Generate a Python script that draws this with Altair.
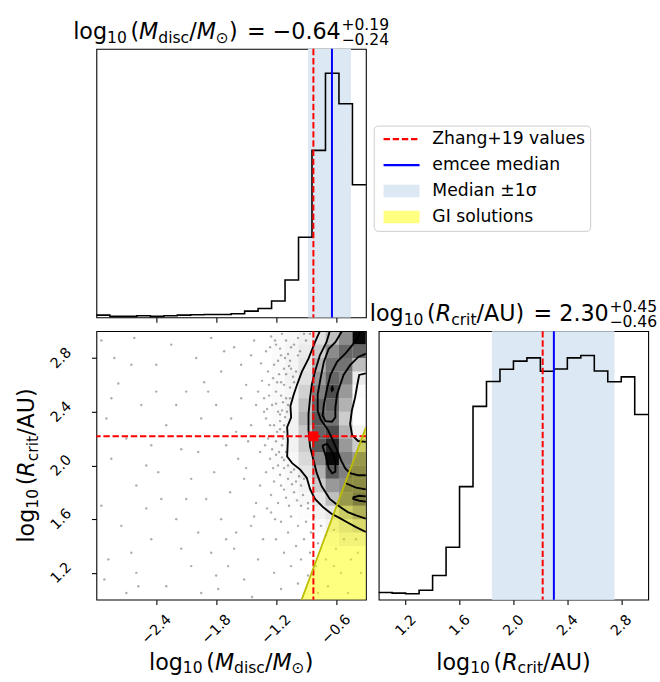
import altair as alt
import pandas as pd

FONT = "DejaVu Sans"

# ---------------- data ----------------
m_range = [-3.0, -0.3]
r_range = [1.0, 3.0]
n_bins = 20
mass_counts = [7, 3, 3, 5, 3, 5, 7, 8, 9, 9, 11, 19, 27, 50, 114, 244, 509, 744, 651, 404]
rcrit_counts = [22, 20, 18, 29, 74, 160, 345, 590, 666, 703, 728, 738, 697, 704, 738, 745, 698, 665, 680, 565]
mass_med, mass_plus, mass_minus = -0.64, 0.19, 0.24
rcrit_med, rcrit_plus, rcrit_minus = 2.30, 0.45, 0.46
zhang_mass, zhang_rcrit = -0.826, 2.217
mass_ticks = [-2.4, -1.8, -1.2, -0.6]
rcrit_ticks = [1.2, 1.6, 2.0, 2.4, 2.8]
gi_mass = [-0.944, -0.3]
gi_rcrit = [1.0, 2.283]

# 2D histogram shading (darkness) for mass columns 13..19, rcrit rows 19 (top) .. 4
dens_cols = [13, 14, 15, 16, 17, 18, 19]
dens_rows = [19, 18, 17, 16, 15, 14, 13, 12, 11, 10, 9, 8, 7, 6, 5, 4]
dens = [
    [0.02, 0.03, 0.06, 0.12, 0.25, 0.45, 0.97],
    [0.02, 0.04, 0.08, 0.20, 0.45, 0.60, 0.60],
    [0.02, 0.04, 0.10, 0.30, 0.55, 0.55, 0.25],
    [0.02, 0.05, 0.12, 0.40, 0.60, 0.50, 0.08],
    [0.02, 0.04, 0.18, 0.50, 0.70, 0.40, 0.02],
    [0.02, 0.05, 0.25, 0.60, 0.60, 0.30, 0.00],
    [0.02, 0.05, 0.30, 0.65, 0.55, 0.20, 0.00],
    [0.02, 0.05, 0.22, 0.60, 0.70, 0.30, 0.05],
    [0.02, 0.05, 0.20, 0.65, 0.85, 0.40, 0.20],
    [0.02, 0.03, 0.15, 0.45, 0.97, 0.50, 0.40],
    [0.01, 0.03, 0.10, 0.30, 0.65, 0.50, 0.45],
    [0.00, 0.02, 0.05, 0.20, 0.40, 0.45, 0.45],
    [0.00, 0.01, 0.03, 0.10, 0.25, 0.40, 0.50],
    [0.00, 0.00, 0.01, 0.05, 0.10, 0.20, 0.30],
    [0.00, 0.00, 0.00, 0.02, 0.05, 0.10, 0.15],
    [0.00, 0.00, 0.00, 0.00, 0.02, 0.05, 0.05],
]

contours = [
    [(-0.761, 3.0), (-0.810, 2.918), (-0.875, 2.796), (-0.941, 2.699), (-0.990, 2.601), (-1.023, 2.528),
     (-1.056, 2.443), (-1.049, 2.358), (-1.089, 2.285), (-1.082, 2.188), (-1.089, 2.066), (-1.039, 2.017),
     (-0.958, 1.969), (-0.892, 1.907), (-0.859, 1.823), (-0.810, 1.750), (-0.727, 1.688), (-0.645, 1.640),
     (-0.579, 1.615), (-0.488, 1.577), (-0.399, 1.540), (-0.300, 1.504)],
    [(-0.662, 3.0), (-0.695, 2.918), (-0.761, 2.820), (-0.810, 2.699), (-0.842, 2.601), (-0.859, 2.504),
     (-0.875, 2.382), (-0.875, 2.261), (-0.859, 2.139), (-0.826, 2.042), (-0.793, 1.944), (-0.744, 1.847),
     (-0.662, 1.750), (-0.579, 1.701), (-0.481, 1.652), (-0.399, 1.628), (-0.300, 1.604)],
    [(-0.540, 3.0), (-0.606, 2.918), (-0.672, 2.869), (-0.721, 2.772), (-0.754, 2.650), (-0.783, 2.528),
     (-0.783, 2.407), (-0.754, 2.343), (-0.685, 2.270), (-0.636, 2.197), (-0.586, 2.109), (-0.547, 2.036),
     (-0.507, 1.978), (-0.458, 1.942), (-0.379, 1.927), (-0.300, 1.927)],
    [(-0.300, 2.832), (-0.376, 2.808), (-0.458, 2.747), (-0.524, 2.674), (-0.557, 2.601), (-0.589, 2.528),
     (-0.606, 2.431), (-0.606, 2.358), (-0.640, 2.325), (-0.704, 2.330), (-0.734, 2.372), (-0.721, 2.455),
     (-0.688, 2.577), (-0.655, 2.674), (-0.589, 2.772), (-0.507, 2.832), (-0.426, 2.905), (-0.380, 2.960),
     (-0.340, 3.0)],
    [(-0.300, 2.686), (-0.367, 2.674), (-0.386, 2.601), (-0.409, 2.504), (-0.441, 2.407), (-0.458, 2.309),
     (-0.438, 2.226), (-0.379, 2.182), (-0.300, 2.175)],
    [(-0.737, 2.148), (-0.704, 2.075), (-0.672, 1.978), (-0.638, 1.942), (-0.606, 1.954), (-0.606, 2.027),
     (-0.638, 2.100), (-0.688, 2.161), (-0.737, 2.148)],
    [(-0.648, 2.575), (-0.635, 2.585), (-0.628, 2.565), (-0.640, 2.556), (-0.648, 2.575)],
    [(-0.514, 1.871), (-0.399, 1.834), (-0.300, 1.822)],
    [(-0.431, 1.761), (-0.366, 1.774), (-0.300, 1.769)],
    [(-0.300, 1.730), (-0.366, 1.737), (-0.426, 1.750), (-0.431, 1.761)],
]

dot_mass = [
    -2.95, -2.78, -2.62, -2.90, -2.55, -2.40, -2.25, -2.10, -2.00, -2.30, -2.70, -2.85, -2.50, -2.15, -1.95, -2.60,
    -2.95, -2.35, -2.05, -2.75, -2.45, -2.20, -1.98, -2.88, -2.60, -2.30, -2.05, -2.70, -2.15, -2.50, -2.82, -2.40,
    -1.92, -2.65,
    -1.85, -1.75, -1.62, -1.50, -1.42, -1.35, -1.80, -1.65, -1.55, -1.45, -1.38, -1.70, -1.58, -1.48, -1.36, -1.82,
    -1.66, -1.52, -1.40, -1.75, -1.60, -1.45, -1.85, -1.68, -1.52, -1.38, -1.78, -1.44, -1.33, -1.90, -1.55, -1.32,
    -1.30, -1.25, -1.20, -1.15, -1.10, -1.05, -0.98, -0.92, -1.28, -1.22, -1.17, -1.12, -1.06, -1.00, -1.27, -1.20,
    -1.15, -1.10, -1.06, -1.24, -1.18, -1.13, -1.09, -1.30, -1.22, -1.16, -1.12, -1.28, -1.20, -1.14, -1.10, -1.26,
    -1.18, -1.12, -1.05, -1.30, -1.22, -1.15, -1.08, -1.00, -1.25, -1.18, -1.10, -1.02, -0.95, -1.32, -1.26, -1.14,
    -1.19, -1.24, -1.16, -1.11, -1.29, -1.03, -1.08, -1.20, -0.98,
    -1.25, -1.15, -1.05, -0.95, -0.88, -1.20, -1.08, -0.98, -0.90, -0.82, -1.12, -1.00, -0.92, -0.85, -0.75, -1.22,
    -1.05, -0.95, -0.86, -0.78, -0.70, -0.62, -1.15, -0.98, -0.88, -0.80, -0.70, -0.60, -0.52, -0.45, -0.55, -0.68,
    -0.40, -0.35, -0.48, -0.78, -0.62, -0.38,
    -1.21, -1.16, -1.11, -1.07, -1.02, -1.06, -1.08, -1.14, -1.12, -1.13, -1.17, -1.12, -1.08, -1.02, -0.97, -0.92,
    -1.04, -1.12, -1.07, -0.99, -0.93, -0.88, -1.23, -1.18, -1.26, -1.19, -1.23, -1.16, -1.27, -1.34, -1.31, -1.36,
    -1.29, -1.21, -1.02, -0.96, -0.90, -0.86, -1.15, -1.12, -1.10, -1.05, -1.20, -1.14, -1.16,
    -2.85, -2.65, -2.45, -2.20, -1.98, -1.88, -1.72, -1.60, -1.50, -1.42, -1.62, -1.80, -2.10, -2.38, -2.58, -2.92,
    -1.95, -1.70, -1.45, -1.40,
]
dot_rcrit = [
    2.93, 2.61, 2.95, 2.35, 2.45, 2.75, 2.90, 2.55, 2.80, 2.30, 2.20, 2.05, 2.00, 2.12, 2.35, 1.85,
    1.70, 1.75, 1.90, 1.55, 1.45, 1.60, 1.50, 1.30, 1.20, 1.10, 1.25, 1.05, 1.38, 1.68, 2.80, 2.55,
    2.62, 1.35,
    2.95, 2.70, 2.88, 2.60, 2.93, 2.76, 2.45, 2.35, 2.50, 2.30, 2.55, 2.15, 2.05, 2.18, 2.10, 1.95,
    1.80, 1.90, 1.72, 1.60, 1.50, 1.55, 1.35, 1.25, 1.15, 1.30, 1.08, 1.02, 1.45, 1.75, 2.75, 2.40,
    2.85, 2.96, 2.90, 2.82, 2.93, 2.88, 2.95, 2.98, 2.70, 2.75, 2.68, 2.72, 2.78, 2.70, 2.60, 2.55,
    2.62, 2.50, 2.58, 2.45, 2.40, 2.47, 2.40, 2.35, 2.30, 2.33, 2.25, 2.20, 2.18, 2.15, 2.10, 2.05,
    2.00, 1.98, 1.95, 1.95, 1.88, 1.85, 1.90, 1.88, 1.78, 1.72, 1.76, 1.80, 1.85, 2.50, 2.88, 2.98,
    2.62, 2.12, 2.27, 2.36, 2.42, 2.66, 2.83, 2.08, 2.82,
    1.65, 1.58, 1.62, 1.70, 1.68, 1.45, 1.50, 1.55, 1.58, 1.62, 1.35, 1.40, 1.45, 1.50, 1.55, 1.20,
    1.25, 1.30, 1.35, 1.42, 1.48, 1.52, 1.08, 1.12, 1.18, 1.25, 1.30, 1.38, 1.45, 1.30, 1.20, 1.10,
    1.45, 1.20, 1.05, 1.05, 1.25, 1.35,
    2.93, 2.87, 2.80, 2.74, 2.62, 2.50, 2.45, 2.41, 2.30, 2.20, 2.10, 2.04, 2.00, 1.97, 1.92, 1.90,
    1.86, 1.82, 1.70, 1.74, 1.78, 1.72, 2.65, 2.78, 2.30, 2.25, 1.98, 1.93, 2.52, 2.63, 2.15, 1.85,
    1.68, 1.60, 2.90, 2.85, 2.93, 2.98, 2.52, 2.60, 2.68, 2.72, 2.46, 2.06, 2.38,
    2.50, 2.75, 2.15, 2.45, 2.10, 2.55, 2.85, 2.25, 1.98, 1.62, 1.38, 1.18, 1.75, 1.95, 1.10, 1.15,
    1.05, 1.45, 2.82, 2.45,
]

legend_labels = ["Zhang+19 values", "emcee median", "Median \u00b11\u03c3", "GI solutions"]
legend_colors = ["#ff0000", "#0000ff", "#dce8f3", "#ffff80"]

mass_label = [("log", "rm"), ("10", "sb"), ("(", "rm"), ("M", "it"), ("disc", "sb"), ("/", "rm"),
              ("M", "it"), ("\u2299", "sb"), (")", "rm")]
rcrit_label = [("log", "rm"), ("10", "sb"), ("(", "rm"), ("R", "it"), ("crit", "sb"), ("/", "rm"),
               ("AU", "rm"), (")", "rm")]


def num(v):
    return f"{v:.2f}".replace("-", "\u2212")


mass_title = mass_label + [("=", "rel"), (num(mass_med), "rm"), ("+" + num(mass_plus), "sp"), (num(-mass_minus), "sb2")]
rcrit_title = rcrit_label + [("=", "rel"), (num(rcrit_med), "rm"), ("+" + num(rcrit_plus), "sp"), (num(-rcrit_minus), "sb2")]

# ---------------- layout helpers ----------------
PW, PH = 274, 273
TFS = 22.6
TICK_FS = 14.5
CHAR_W = {'l': 0.278, 'o': 0.612, 'g': 0.635, '(': 0.390, ')': 0.390, 'M': 0.863, 'd': 0.635, 'i': 0.278,
          's': 0.521, 'c': 0.550, '/': 0.337, '\u2299': 0.838, '=': 0.838, '\u2212': 0.838, '+': 0.838,
          '.': 0.318, 'R': 0.695, 'r': 0.411, 't': 0.392, 'A': 0.684, 'U': 0.732, ' ': 0.318}


def tw(s, fs):
    return sum(0.636 if ch.isdigit() else CHAR_W.get(ch, 0.6) for ch in s) * fs


def layout(parts, fs):
    items, x, sup_x, sup_end = [], 0.0, 0.0, 0.0
    for i, (t, role) in enumerate(parts):
        if role in ("rm", "it"):
            items.append((t, x, 0.0, fs, "italic" if role == "it" else "normal"))
            x += tw(t, fs)
        elif role == "rel":
            x += 0.42 * fs
            items.append((t, x, 0.0, fs, "normal"))
            x += tw(t, fs) + 0.32 * fs
        elif role == "sb":
            s = 0.7 * fs
            items.append((t, x, 0.16 * fs, s, "normal"))
            x += tw(t, s)
            if i > 0 and parts[i - 1][0] == "log":
                x += 0.16 * fs
        elif role == "sp":
            s = 0.7 * fs
            x += 0.03 * fs
            items.append((t, x, -0.40 * fs, s, "normal"))
            sup_x, sup_end = x, x + tw(t, s)
        elif role == "sb2":
            s = 0.7 * fs
            items.append((t, sup_x, 0.27 * fs, s, "normal"))
            x = max(sup_end, sup_x + tw(t, s))
    return items, x


def text_df(parts, fs, cx, cy, rotated=False):
    items, total = layout(parts, fs)
    rows = []
    for t, x, dy, s, st in items:
        if rotated:
            rows.append({"t": t, "px": cx + dy, "py": cy + total / 2 - x, "fs": s, "st": st})
        else:
            rows.append({"t": t, "px": cx - total / 2 + x, "py": cy + dy, "fs": s, "st": st})
    return pd.DataFrame(rows)


def text_layers(df, angle=0):
    out = []
    for st in ["normal", "italic"]:
        sub = df[df["st"] == st]
        if len(sub) == 0:
            continue
        out.append(alt.Chart(sub).mark_text(align="left", baseline="alphabetic", font=FONT, fontStyle=st,
                                            angle=angle, color="black").encode(
            x=alt.X("px:Q", scale=None, axis=None),
            y=alt.Y("py:Q", scale=None, axis=None),
            text="t:N",
            size=alt.Size("fs:Q", scale=None, legend=None)))
    return out


def hist_df(counts, lo, hi):
    w = (hi - lo) / len(counts)
    return pd.DataFrame({"v": [lo + i * w for i in range(len(counts) + 1)],
                         "c": counts + [counts[-1]]})


DASH = [6.5, 2.8]
LW = 2.0

# ---------------- top-left: mass histogram ----------------
mx = alt.Scale(domain=m_range, nice=False, zero=False)
my_top = alt.Scale(domain=[0, 1.1 * max(mass_counts)], nice=False)
top_xaxis = alt.Axis(values=mass_ticks, labels=False, ticks=True, tickSize=5, tickWidth=1.1,
                     tickColor="black", domain=False, grid=False, title=None)

band_m = alt.Chart(pd.DataFrame({"a": [mass_med - mass_minus], "b": [mass_med + mass_plus]})).mark_rect(
    color="#dce8f3").encode(x=alt.X("a:Q", scale=mx, axis=top_xaxis), x2="b:Q")
hist_m = alt.Chart(hist_df(mass_counts, *m_range)).mark_line(interpolate="step-after", color="black",
                                                             strokeWidth=1.6).encode(
    x=alt.X("v:Q", scale=mx, axis=top_xaxis), y=alt.Y("c:Q", scale=my_top, axis=None))
zh_m = alt.Chart(pd.DataFrame({"v": [zhang_mass]})).mark_rule(color="#ff0000", strokeDash=DASH,
                                                               strokeWidth=LW).encode(x="v:Q")
med_m = alt.Chart(pd.DataFrame({"v": [mass_med]})).mark_rule(color="#0000ff", strokeWidth=LW).encode(x="v:Q")

# legend
U = 6.5  # px per path unit for symbol size 169
u0 = -0.585
hl = 36.6 / U
u1 = u0 + hl
th = 0.8 / U * 1.5


def rect_path(a, b, h):
    return f"M{a:.3f},{-h:.3f}H{b:.3f}V{h:.3f}H{a:.3f}Z"


dash_parts = []
a = u0
while a < u1:
    b = min(a + DASH[0] / U, u1)
    dash_parts.append(rect_path(a, b, th))
    a = b + DASH[1] / U
legend_shapes = [" ".join(dash_parts), rect_path(u0, u1, th), rect_path(u0, u1, 0.98), rect_path(u0, u1, 0.98)]

leg = alt.Legend(title=None, orient="none", legendX=282, legendY=78, labelFont=FONT, labelFontSize=17.5,
                 labelColor="black", labelOffset=37, rowPadding=7.4, padding=5, strokeColor="#cccccc",
                 fillColor="white", cornerRadius=4, symbolOpacity=1, symbolStrokeWidth=0, symbolSize=169,
                 labelLimit=400)
legend_layer = alt.Chart(pd.DataFrame({"cat": legend_labels})).mark_point(
    filled=True, size=169, opacity=0, strokeWidth=0).encode(
    x=alt.value(50), y=alt.value(50),
    color=alt.Color("cat:N", scale=alt.Scale(domain=legend_labels, range=legend_colors), legend=leg),
    shape=alt.Shape("cat:N", scale=alt.Scale(domain=legend_labels, range=legend_shapes), legend=leg))

top = alt.layer(band_m, hist_m, zh_m, med_m, legend_layer,
                *text_layers(text_df(mass_title, TFS, PW / 2, -10))).properties(width=PW, height=PH)

# ---------------- bottom-left: 2D ----------------
ry = alt.Scale(domain=r_range, nice=False, zero=False)
minus_expr = "replace(format(datum.value, '.1f'), '-', '\u2212')"


def tick_axis(vals, pad):
    return alt.Axis(values=vals, labelAngle=315, labelAlign="center", labelBaseline="middle",
                    labelPadding=pad, tickSize=5, tickWidth=1.1, tickColor="black", labelFont=FONT,
                    labelFontSize=TICK_FS, labelColor="black", labelExpr=minus_expr, domain=False, grid=False,
                    title=None, labelFlush=False, labelOverlap=False)


bl_xaxis = tick_axis(mass_ticks, 25)
bl_yaxis = tick_axis(rcrit_ticks, 31)

dots = alt.Chart(pd.DataFrame({"m": dot_mass, "r": dot_rcrit})).mark_circle(
    size=6, color="#6a6a6a", opacity=0.55, clip=True).encode(
    x=alt.X("m:Q", scale=mx, axis=bl_xaxis), y=alt.Y("r:Q", scale=ry, axis=bl_yaxis))

gi_df = pd.DataFrame({"m": gi_mass, "r": gi_rcrit, "base": [r_range[0]] * len(gi_mass)})
gi_area = alt.Chart(gi_df).mark_area(color="#ffff00", opacity=0.5, clip=True).encode(
    x="m:Q", y="r:Q", y2="base:Q")
gi_edge = alt.Chart(gi_df).mark_line(color="#bcbc00", strokeWidth=1.8, clip=True).encode(x="m:Q", y="r:Q")

mw = (m_range[1] - m_range[0]) / n_bins
rw = (r_range[1] - r_range[0]) / n_bins
cell_rows = []
for ri, row in zip(dens_rows, dens):
    for ci, v in zip(dens_cols, row):
        if v > 0:
            cell_rows.append({"x0": m_range[0] + ci * mw, "x1": m_range[0] + (ci + 1) * mw,
                              "y0": r_range[0] + ri * rw, "y1": r_range[0] + (ri + 1) * rw, "d": v})
cells = alt.Chart(pd.DataFrame(cell_rows)).mark_rect(color="black", clip=True).encode(
    x="x0:Q", x2="x1:Q", y="y0:Q", y2="y1:Q", opacity=alt.Opacity("d:Q", scale=None, legend=None))

crow = []
for cid, path in enumerate(contours):
    for k, (m, r) in enumerate(path):
        crow.append({"cid": cid, "k": k, "m": m, "r": r})
cont = alt.Chart(pd.DataFrame(crow)).mark_line(color="black", strokeWidth=1.9, clip=True).encode(
    x="m:Q", y="r:Q", detail="cid:N", order="k:Q")

zh_v = alt.Chart(pd.DataFrame({"v": [zhang_mass]})).mark_rule(color="#ff0000", strokeDash=DASH,
                                                               strokeWidth=LW).encode(x="v:Q")
zh_h = alt.Chart(pd.DataFrame({"v": [zhang_rcrit]})).mark_rule(color="#ff0000", strokeDash=DASH,
                                                                strokeWidth=LW).encode(y="v:Q")
zh_pt = alt.Chart(pd.DataFrame({"m": [zhang_mass], "r": [zhang_rcrit]})).mark_square(
    size=100, color="#ff0000", opacity=1).encode(x="m:Q", y="r:Q")

bl = alt.layer(dots, gi_area, cells, cont, zh_v, zh_h, zh_pt, gi_edge,
               *text_layers(text_df(mass_label, TFS, PW / 2, PH + 71)),
               *text_layers(text_df(rcrit_label, TFS, -63, PH / 2, rotated=True), angle=270)
               ).properties(width=PW, height=PH)

# ---------------- bottom-right: rcrit histogram ----------------
rx = alt.Scale(domain=r_range, nice=False, zero=False)
ry_hist = alt.Scale(domain=[0, 1.1 * max(rcrit_counts)], nice=False)
br_xaxis = tick_axis(rcrit_ticks, 21)
band_r = alt.Chart(pd.DataFrame({"a": [rcrit_med - rcrit_minus], "b": [rcrit_med + rcrit_plus]})).mark_rect(
    color="#dce8f3").encode(x=alt.X("a:Q", scale=rx, axis=br_xaxis), x2="b:Q")
hist_r = alt.Chart(hist_df(rcrit_counts, *r_range)).mark_line(interpolate="step-after", color="black",
                                                              strokeWidth=1.6).encode(
    x=alt.X("v:Q", scale=rx, axis=br_xaxis), y=alt.Y("c:Q", scale=ry_hist, axis=None))
zh_r = alt.Chart(pd.DataFrame({"v": [zhang_rcrit]})).mark_rule(color="#ff0000", strokeDash=DASH,
                                                                strokeWidth=LW).encode(x="v:Q")
med_r = alt.Chart(pd.DataFrame({"v": [rcrit_med]})).mark_rule(color="#0000ff", strokeWidth=LW).encode(x="v:Q")

br = alt.layer(band_r, hist_r, zh_r, med_r,
               *text_layers(text_df(rcrit_title, TFS, PW / 2, -10)),
               *text_layers(text_df(rcrit_label, TFS, PW / 2, PH + 71))
               ).properties(width=PW, height=PH)

chart = alt.vconcat(
    top,
    alt.hconcat(bl, br, spacing=13, bounds="flush"),
    spacing=14, bounds="flush",
).properties(
    padding={"left": 16, "top": 11, "right": 2, "bottom": 0},
    background="white",
).configure_view(stroke="black", strokeWidth=1.1).configure_axis(grid=False)

chart.save("out.html", embed_options={"renderer": "svg", "actions": False})
